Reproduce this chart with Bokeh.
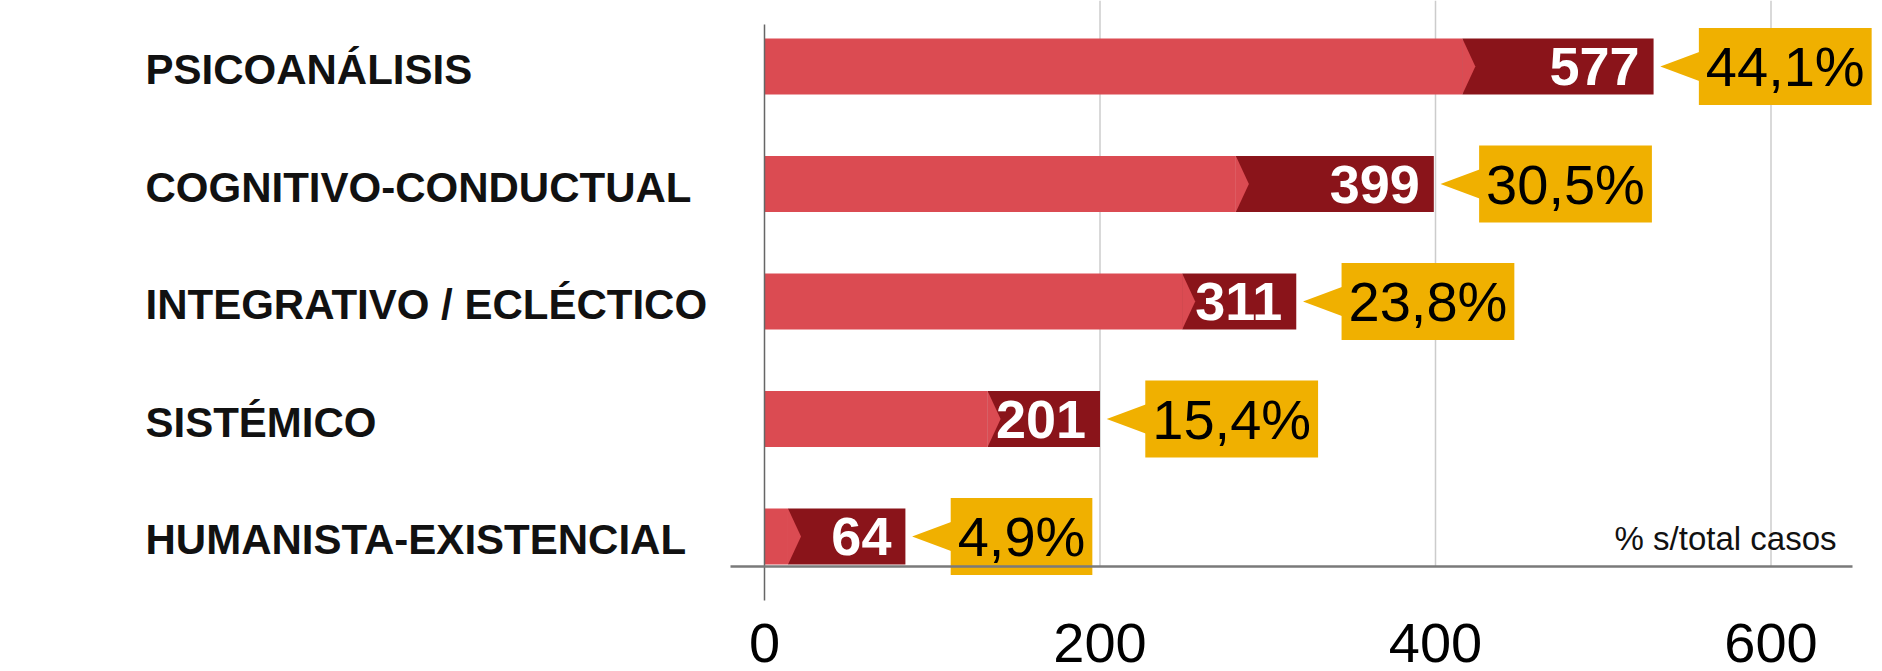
from bokeh.plotting import figure
from bokeh.models import ColumnDataSource, Range1d, FixedTicker
from bokeh.core.properties import value
from bokeh.embed import file_html
from bokeh.resources import INLINE

# ---------------- data ----------------
categories = ["PSICOANÁLISIS", "COGNITIVO-CONDUCTUAL", "INTEGRATIVO / ECLÉCTICO",
              "SISTÉMICO", "HUMANISTA-EXISTENCIAL"]
counts = [577, 399, 311, 201, 64]
pct_labels = ["44,1%", "30,5%", "23,8%", "15,4%", "4,9%"]
light_part = [416, 281, 249, 133, 14]     # light-red segment (axis units)
dark_part = [114, 118, 68, 67, 70]        # dark-red segment (axis units)
x_ticks = [0, 200, 400, 600]
note = "% s/total casos"

# ---------------- styles ----------------
LIGHT = "#DB4B52"
DARK = "#8A141A"
YELLOW = "#F0B000"
FONT = "Liberation Sans"

W, H = 1882, 671
PX_X = 335.5 / 200.0        # px per axis unit
PX_Y = 117.5                # px per category step
X0 = 764                    # page x of value 0
x_start = -X0 / PX_X
x_end = (W - X0) / PX_X
y_top = 5 + 66 / PX_Y
y_bot = y_top - H / PX_Y


def y_at(px):  # page pixel (from top) -> data y
    return y_top - px / PX_Y


def x_at(px):
    return (px - X0) / PX_X


n = len(categories)
ys = [n - i for i in range(n)]
totals = [a + b for a, b in zip(light_part, dark_part)]
bar_h = 56 / PX_Y
chev = 13 / PX_X
tip_gap = 4
ptr_len = 23
ptr_half = 15 / PX_Y

src = ColumnDataSource(dict(
    y=ys, cat=categories, light=light_part, total=totals,
    cnt=[str(c) for c in counts],
    pct=pct_labels,
    box_x=[t + tip_gap + ptr_len for t in totals],
    lab_x=[x_at(145)] * n,
))

p = figure(width=W, height=H, output_backend="svg", toolbar_location=None,
           x_range=Range1d(x_start, x_end), y_range=Range1d(y_bot, y_top),
           y_axis_location=None, min_border=0, min_border_left=0,
           min_border_right=0, min_border_top=0, min_border_bottom=0)
p.outline_line_color = None
p.grid.visible = False
p.background_fill_color = "white"
p.border_fill_color = "white"

ax = p.xaxis[0]
ax.ticker = FixedTicker(ticks=x_ticks)
ax.axis_line_color = None
ax.major_tick_line_color = None
ax.minor_tick_line_color = None
ax.major_tick_out = 0
ax.major_tick_in = 0
ax.major_label_standoff = 0
ax.major_label_text_font = FONT
ax.major_label_text_font_size = "56px"
ax.major_label_text_color = "#000000"
ax.fixed_location = y_at(623)

# grid lines (stop at baseline)
base_y = y_at(566)
grid_x = [t for t in x_ticks if t != 0]
p.segment(x0=grid_x, y0=[base_y] * len(grid_x), x1=grid_x, y1=[y_top] * len(grid_x),
          line_color="#cccccc", line_width=1.5)

# note
p.text(x=[x_at(1836)], y=[y_at(538)], text=[note],
       text_font=value(FONT), text_font_size="33px", text_align="right",
       text_baseline="middle", text_color="#111111")

# bars
p.hbar(y="y", left="light", right="total", height=bar_h, source=src,
       fill_color=DARK, line_color=None)
p.hbar(y="y", left=0, right="light", height=bar_h, source=src,
       fill_color=LIGHT, line_color=None)
chev_xs = [[l, l + chev, l] for l in light_part]
chev_ys = [[y + bar_h / 2, y, y - bar_h / 2] for y in ys]
p.patches(xs=chev_xs, ys=chev_ys, fill_color=LIGHT, line_color=None)

# count labels
p.text(x="total", y="y", text="cnt", source=src, x_offset=-14,
       text_font=value(FONT), text_font_style="bold", text_font_size="54px",
       text_align="right", text_baseline="middle", text_color="white")

# yellow pointers + boxes
ptr_xs = [[t + tip_gap, t + tip_gap + ptr_len + 1, t + tip_gap + ptr_len + 1] for t in totals]
ptr_ys = [[y, y + ptr_half, y - ptr_half] for y in ys]
p.patches(xs=ptr_xs, ys=ptr_ys, fill_color=YELLOW, line_color=None)
p.text(x="box_x", y="y", text="pct", source=src, x_offset=0,
       text_font=value(FONT), text_font_size="56px", text_align="left",
       text_baseline="middle", text_color="#000000",
       background_fill_color=YELLOW, padding=7)

# category labels
p.text(x="lab_x", y="y", text="cat", source=src, y_offset=3,
       text_font=value(FONT), text_font_style="bold", text_font_size="42px",
       text_align="left", text_baseline="middle", text_color="#111111")

# zero line and baseline
p.segment(x0=[0], y0=[y_at(24)], x1=[0], y1=[y_at(600)],
          line_color="#666666", line_width=1.5)
p.segment(x0=[x_at(730)], y0=[base_y], x1=[x_at(1852)], y1=[base_y],
          line_color="#7a7a7a", line_width=2.5)

open("out.html", "w").write(file_html(p, INLINE))
